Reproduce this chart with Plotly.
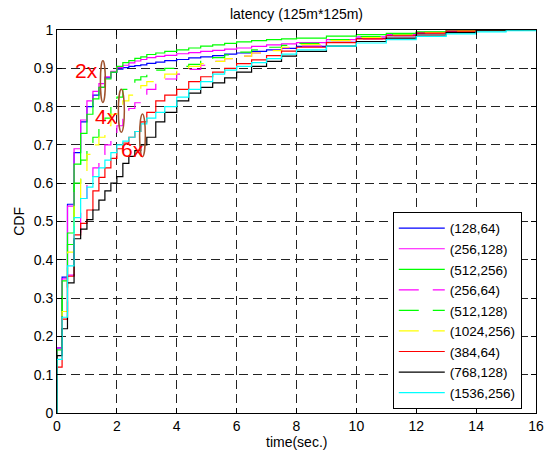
import plotly.graph_objects as go

# shared step times (sec.)
times = [0, 0.17, 0.35, 0.57, 0.79, 1.0, 1.2, 1.4, 1.6, 1.8, 2.0, 2.2, 2.4, 2.6, 2.8,
         3.0, 3.3, 3.6, 4.0, 4.4, 4.8, 5.2, 5.6, 6.0, 6.5, 7.0, 7.5, 8.0, 9.0, 10.0,
         11.0, 12.0, 13.0, 14.0, 15.0, 16.0]

labels = ["(128,64)", "(256,128)", "(512,256)", "(256,64)", "(512,128)",
          "(1024,256)", "(384,64)", "(768,128)", "(1536,256)"]

cdf_128_64 = [0.17, 0.355, 0.545, 0.68, 0.76, 0.80, 0.83, 0.85, 0.875, 0.89, 0.898, 0.902, 0.905, 0.907, 0.909,
              0.913, 0.916, 0.92, 0.923, 0.927, 0.93, 0.933, 0.937, 0.94, 0.944, 0.948, 0.952, 0.957, 0.968, 0.978,
              0.985, 0.991, 0.996, 1.0, 1.0, 1.0]
cdf_256_128 = [0.17, 0.35, 0.54, 0.69, 0.765, 0.815, 0.84, 0.86, 0.878, 0.892, 0.902, 0.908, 0.914, 0.919, 0.923,
               0.928, 0.931, 0.934, 0.938, 0.941, 0.944, 0.947, 0.95, 0.953, 0.957, 0.961, 0.964, 0.967, 0.975, 0.982,
               0.988, 0.994, 1.0, 1.0, 1.0, 1.0]
cdf_512_256 = [0.165, 0.345, 0.47, 0.65, 0.73, 0.78, 0.82, 0.85, 0.872, 0.89, 0.905, 0.915, 0.92, 0.926, 0.93,
               0.936, 0.94, 0.944, 0.948, 0.953, 0.958, 0.961, 0.965, 0.969, 0.972, 0.975, 0.977, 0.979, 0.984, 0.988,
               0.991, 0.995, 1.0, 1.0, 1.0, 1.0]
cdf_256_64 = [0.165, 0.265, 0.36, 0.47, 0.56, 0.61, 0.64, 0.675, 0.70, 0.725, 0.75, 0.775, 0.795, 0.81, 0.83,
              0.845, 0.86, 0.872, 0.885, 0.897, 0.908, 0.918, 0.925, 0.932, 0.94, 0.947, 0.953, 0.958, 0.968, 0.977,
              0.985, 0.991, 0.997, 1.0, 1.0, 1.0]
cdf_512_128 = [0.165, 0.31, 0.44, 0.60, 0.66, 0.695, 0.72, 0.745, 0.77, 0.80, 0.825, 0.845, 0.86, 0.87, 0.878,
               0.885, 0.895, 0.90, 0.905, 0.91, 0.92, 0.928, 0.935, 0.942, 0.948, 0.955, 0.96, 0.965, 0.975, 0.983,
               0.989, 0.994, 0.998, 1.0, 1.0, 1.0]
cdf_1024_256 = [0.16, 0.265, 0.42, 0.56, 0.63, 0.675, 0.70, 0.72, 0.75, 0.78, 0.80, 0.815, 0.83, 0.84, 0.855,
                0.865, 0.875, 0.885, 0.895, 0.905, 0.912, 0.918, 0.925, 0.932, 0.94, 0.946, 0.955, 0.962, 0.972, 0.98,
                0.987, 0.993, 0.997, 1.0, 1.0, 1.0]
cdf_384_64 = [0.12, 0.245, 0.357, 0.465, 0.495, 0.53, 0.58, 0.615, 0.64, 0.665, 0.69, 0.705, 0.72, 0.735, 0.76,
              0.785, 0.815, 0.83, 0.845, 0.865, 0.878, 0.89, 0.90, 0.912, 0.922, 0.933, 0.945, 0.955, 0.967, 0.977,
              0.985, 0.992, 0.997, 1.0, 1.0, 1.0]
cdf_768_128 = [0.15, 0.22, 0.34, 0.455, 0.48, 0.505, 0.53, 0.556, 0.58, 0.60, 0.617, 0.652, 0.67, 0.685, 0.70,
               0.72, 0.76, 0.785, 0.815, 0.835, 0.85, 0.862, 0.875, 0.89, 0.905, 0.918, 0.932, 0.944, 0.958, 0.97,
               0.979, 0.987, 0.993, 0.998, 1.0, 1.0]
cdf_1536_256 = [0.14, 0.25, 0.384, 0.51, 0.56, 0.59, 0.617, 0.64, 0.66, 0.68, 0.70, 0.71, 0.72, 0.735, 0.755,
                0.77, 0.785, 0.80, 0.825, 0.845, 0.865, 0.885, 0.895, 0.905, 0.915, 0.925, 0.937, 0.948, 0.958, 0.966,
                0.975, 0.983, 0.99, 0.995, 0.998, 1.0]

series = [cdf_128_64, cdf_256_128, cdf_512_256, cdf_256_64, cdf_512_128,
          cdf_1024_256, cdf_384_64, cdf_768_128, cdf_1536_256]
colors = ["#0000FF", "#FF00FF", "#00FF00", "#FF00FF", "#00FF00",
          "#FFFF00", "#FF0000", "#000000", "#00FFFF"]
dashes = ["solid", "solid", "solid", "20px,14px", "20px,14px", "20px,14px",
          "solid", "solid", "solid"]

FONT = "Liberation Sans, Arial, Helvetica, sans-serif"

fig = go.Figure()
for name, vals, col, dsh in zip(labels, series, colors, dashes):
    fig.add_trace(go.Scatter(
        x=[0] + times, y=[0] + vals, mode="lines", name=name,
        line=dict(color=col, width=1.2, dash=dsh, shape="hv"),
    ))

# ellipses marking the groups
ellipses = [(1.45, 1.615, 0.811, 0.920), (2.05, 2.25, 0.733, 0.845), (2.76, 2.95, 0.669, 0.781)]
for x0, x1, y0, y1 in ellipses:
    fig.add_shape(type="circle", xref="x", yref="y", x0=x0, x1=x1, y0=y0, y1=y1,
                  line=dict(color="#A0522D", width=1.5))

group_texts = [("2x", 0.99, 0.893), ("4x", 1.64, 0.775), ("6x", 2.517, 0.689)]
for txt, tx, ty in group_texts:
    fig.add_annotation(x=tx, y=ty, xref="x", yref="y", text=txt, showarrow=False,
                       font=dict(family=FONT, size=21, color="#FF0000"),
                       xanchor="center", yanchor="middle")

fig.add_annotation(x=0.5, y=-0.0757, xref="paper", yref="paper", text="time(sec.)",
                   showarrow=False, font=dict(family=FONT, size=14, color="black"),
                   xanchor="center", yanchor="middle")
fig.add_annotation(x=-0.0807, y=0.5, xref="paper", yref="paper", text="CDF", textangle=-90,
                   showarrow=False, font=dict(family=FONT, size=14, color="black"),
                   xanchor="center", yanchor="middle")

axis_common = dict(
    showline=True, linecolor="black", linewidth=1, mirror="ticks",
    ticks="inside", ticklen=5, tickcolor="black", tickwidth=1,
    showgrid=True, gridcolor="#222222", gridwidth=1, griddash="9px,5px",
    zeroline=False, tickfont=dict(family=FONT, size=14, color="black"),
)
fig.update_xaxes(range=[0, 16], dtick=2, tick0=0, **axis_common)
fig.update_yaxes(range=[0, 1], dtick=0.1, tick0=0, **axis_common)

fig.update_layout(
    width=552, height=455,
    margin=dict(l=57, r=8, t=30, b=42, pad=0),
    paper_bgcolor="white", plot_bgcolor="white",
    title=dict(text="latency (125m*125m)", x=0.5, xref="paper", y=0.969, yref="container",
               xanchor="center", yanchor="middle",
               font=dict(family=FONT, size=14, color="black")),
    legend=dict(x=0.701, y=0.525, xanchor="left", yanchor="top",
                bgcolor="white", bordercolor="black", borderwidth=1,
                font=dict(family=FONT, size=13.5, color="black"),
                itemwidth=46, tracegroupgap=0),
    showlegend=True,
)

fig.write_html("out.html")
